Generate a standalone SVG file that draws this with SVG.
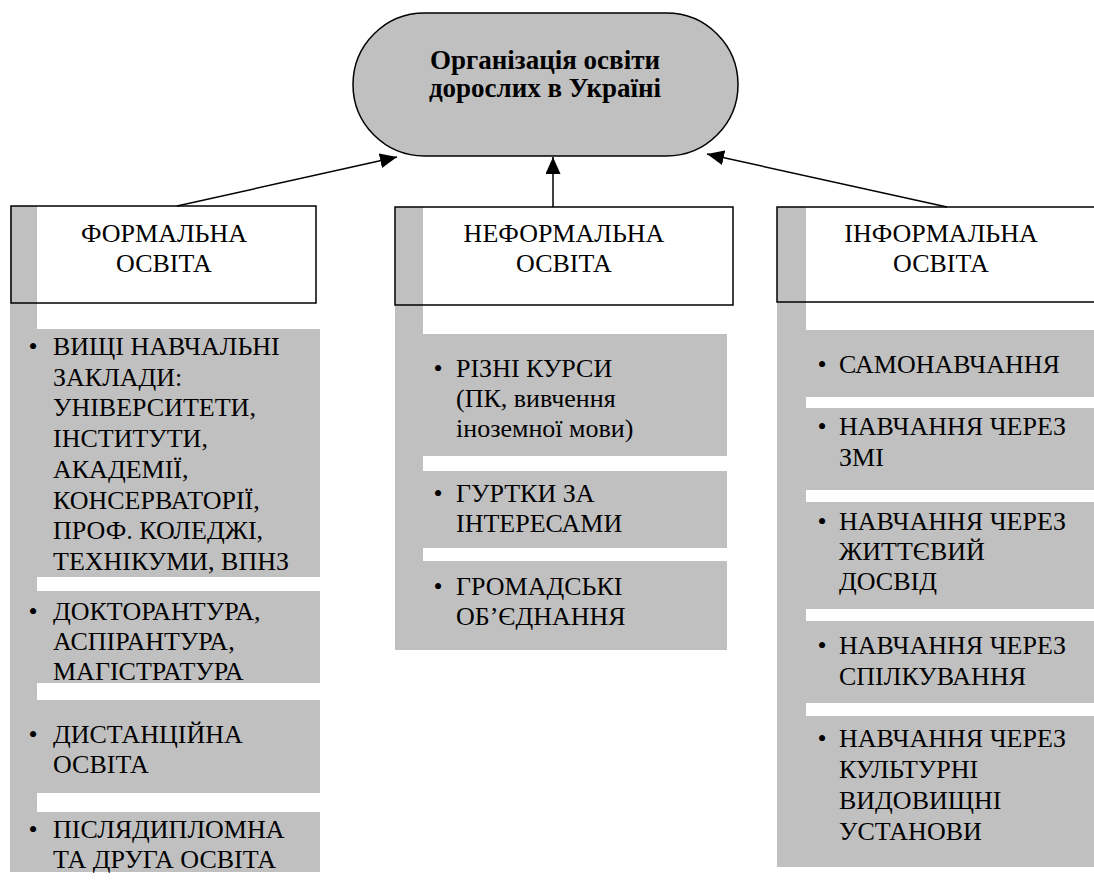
<svg xmlns="http://www.w3.org/2000/svg" width="1094" height="883" viewBox="0 0 1094 883">
<style>
.g{fill:#c0c0c0}
.w{fill:#ffffff}
.b{fill:none;stroke:#000;stroke-width:1.5}
text{font-family:'Liberation Serif','Times New Roman',serif;font-size:26px;fill:#000}
.c{text-anchor:middle}
.h{font-weight:bold;font-size:27px}
.ln{stroke:#000;stroke-width:1.5;fill:none}
</style>
<defs>
<marker id="ah" markerUnits="userSpaceOnUse" markerWidth="18" markerHeight="16" refX="17" refY="7.5" orient="auto">
<path d="M0,0 L17,7.5 L0,15 z" fill="#000"/>
</marker>
</defs>
<rect width="1094" height="883" fill="#fff"/>

<g id="root">
<rect x="353" y="13" width="385" height="143" rx="71.5" ry="71.5" class="g" stroke="#000" stroke-width="1.5"/>
<text class="h c" x="545" y="69">Організація освіти</text>
<text class="h c" x="545" y="97">дорослих в Україні</text>
</g>

<g id="formal">
<rect class="g" x="10" y="206" width="27" height="666"/>
<rect class="w" x="37" y="206" width="279" height="97"/>
<rect class="b" x="11" y="206" width="305" height="97"/>
<text class="c" x="164" y="242">ФОРМАЛЬНА</text>
<text class="c" x="164" y="272">ОСВІТА</text>
<rect class="g" x="37" y="329" width="283" height="248"/>
<rect class="g" x="37" y="591" width="283" height="92"/>
<rect class="g" x="37" y="700" width="283" height="93"/>
<rect class="g" x="37" y="812" width="283" height="60"/>
<text x="33" y="355" class="c">•</text>
<text x="53" y="355">ВИЩІ НАВЧАЛЬНІ</text>
<text x="53" y="385.7">ЗАКЛАДИ:</text>
<text x="53" y="416.4">УНІВЕРСИТЕТИ,</text>
<text x="53" y="447.1">ІНСТИТУТИ,</text>
<text x="53" y="477.8">АКАДЕМІЇ,</text>
<text x="53" y="508.5">КОНСЕРВАТОРІЇ,</text>
<text x="53" y="539.2">ПРОФ. КОЛЕДЖІ,</text>
<text x="53" y="570">ТЕХНІКУМИ, ВПНЗ</text>
<text x="33" y="620" class="c">•</text>
<text x="53" y="620">ДОКТОРАНТУРА,</text>
<text x="53" y="650">АСПІРАНТУРА,</text>
<text x="53" y="680">МАГІСТРАТУРА</text>
<text x="33" y="743" class="c">•</text>
<text x="53" y="743">ДИСТАНЦІЙНА</text>
<text x="53" y="773">ОСВІТА</text>
<text x="33" y="838" class="c">•</text>
<text x="53" y="838">ПІСЛЯДИПЛОМНА</text>
<text x="53" y="868">ТА ДРУГА ОСВІТА</text>
</g>

<g id="nonformal">
<rect class="g" x="395" y="207" width="28" height="443"/>
<rect class="w" x="423" y="207" width="310" height="98"/>
<rect class="b" x="395" y="207" width="338" height="98"/>
<text class="c" x="564" y="242">НЕФОРМАЛЬНА</text>
<text class="c" x="564" y="272">ОСВІТА</text>
<rect class="g" x="423" y="334" width="304" height="122"/>
<rect class="g" x="423" y="471" width="304" height="77"/>
<rect class="g" x="423" y="561" width="304" height="89"/>
<text x="438" y="377" class="c">•</text>
<text x="456" y="377">РІЗНІ КУРСИ</text>
<text x="456" y="407">(ПК, вивчення</text>
<text x="456" y="437">іноземної мови)</text>
<text x="438" y="502" class="c">•</text>
<text x="456" y="502">ГУРТКИ ЗА</text>
<text x="456" y="532">ІНТЕРЕСАМИ</text>
<text x="438" y="595" class="c">•</text>
<text x="456" y="595">ГРОМАДСЬКІ</text>
<text x="456" y="625">ОБ’ЄДНАННЯ</text>
</g>

<g id="informal">
<rect class="g" x="777" y="207" width="29" height="660"/>
<rect class="w" x="806" y="207" width="300" height="95"/>
<rect class="b" x="777" y="207" width="340" height="95"/>
<text class="c" x="941" y="242">ІНФОРМАЛЬНА</text>
<text class="c" x="941" y="272">ОСВІТА</text>
<rect class="g" x="806" y="330" width="300" height="67"/>
<rect class="g" x="806" y="408" width="300" height="82"/>
<rect class="g" x="806" y="502" width="300" height="107"/>
<rect class="g" x="806" y="621" width="300" height="82"/>
<rect class="g" x="806" y="716" width="300" height="151"/>
<text x="822" y="373" class="c">•</text>
<text x="839" y="373">САМОНАВЧАННЯ</text>
<text x="822" y="435" class="c">•</text>
<text x="839" y="435">НАВЧАННЯ ЧЕРЕЗ</text>
<text x="839" y="466">ЗМІ</text>
<text x="822" y="530" class="c">•</text>
<text x="839" y="530">НАВЧАННЯ ЧЕРЕЗ</text>
<text x="839" y="560">ЖИТТЄВИЙ</text>
<text x="839" y="590">ДОСВІД</text>
<text x="822" y="654" class="c">•</text>
<text x="839" y="654">НАВЧАННЯ ЧЕРЕЗ</text>
<text x="839" y="685">СПІЛКУВАННЯ</text>
<text x="822" y="747" class="c">•</text>
<text x="839" y="747">НАВЧАННЯ ЧЕРЕЗ</text>
<text x="839" y="778">КУЛЬТУРНІ</text>
<text x="839" y="809">ВИДОВИЩНІ</text>
<text x="839" y="840">УСТАНОВИ</text>
</g>

<g id="connectors">
<line class="ln" x1="177" y1="206" x2="397" y2="157" marker-end="url(#ah)"/>
<line class="ln" x1="553" y1="207" x2="553" y2="157" marker-end="url(#ah)"/>
<line class="ln" x1="947" y1="207" x2="707" y2="154" marker-end="url(#ah)"/>
</g>
</svg>
